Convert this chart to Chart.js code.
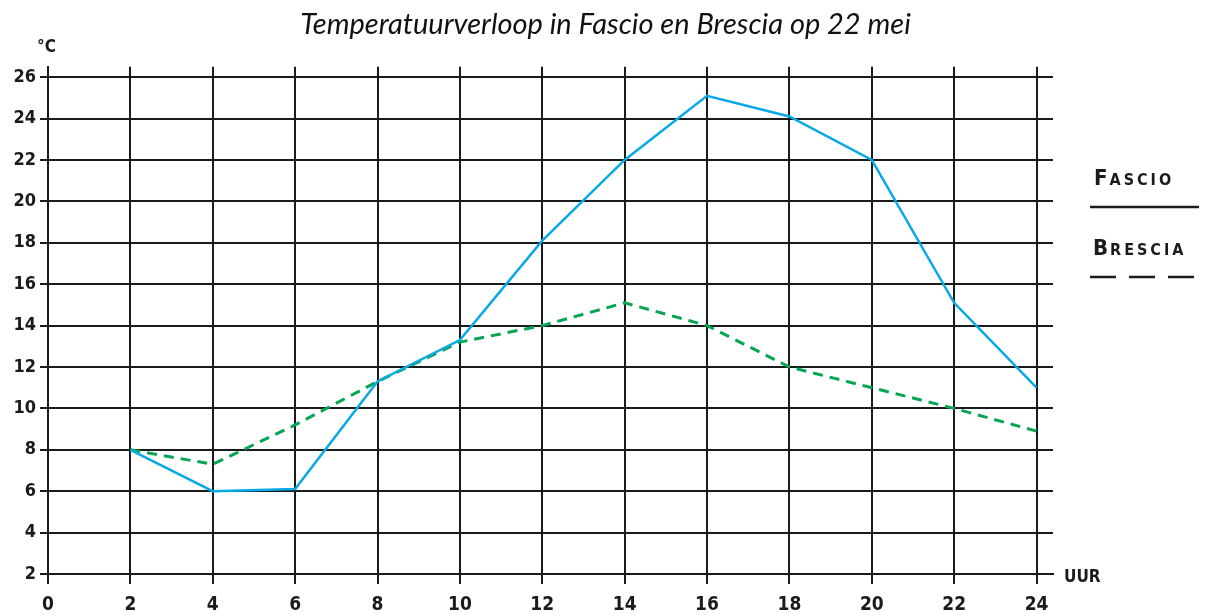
<!DOCTYPE html>
<html>
<head>
<meta charset="utf-8">
<script src="https://cdn.jsdelivr.net/npm/chart.js@4"></script>
<style>
  html, body { margin: 0; padding: 0; background: #fff; }
  #wrap { width: 1211px; height: 615px; }
</style>
</head>
<body>
<div id="wrap"><canvas id="tempChart" width="1211" height="615"></canvas></div>
<script>
// uren van de dag en gemeten temperaturen (°C)
const hours = [2, 4, 6, 8, 10, 12, 14, 16, 18, 20, 22, 24];
const fascio = [8, 6, 6.1, 11.3, 13.3, 18.1, 22, 25.1, 24.1, 22, 15.1, 11];
const brescia = [8, 7.3, 9.2, 11.3, 13.2, 14, 15.1, 14, 12, 11, 10, 8.9];

const xTicks = [0, 2, 4, 6, 8, 10, 12, 14, 16, 18, 20, 22, 24];
const yTicks = [2, 4, 6, 8, 10, 12, 14, 16, 18, 20, 22, 24, 26];

const ink = "#1b1b1b";
const handFont = "'DejaVu Sans Condensed', 'DejaVu Sans', sans-serif";

// handgeschreven opschriften: °C, UUR en de legenda rechts
const handLabels = {
    id: "handLabels",
    afterDraw(chart) {
        const ctx = chart.ctx;
        ctx.save();
        ctx.fillStyle = ink;
        ctx.textBaseline = "alphabetic";
        ctx.textAlign = "left";

        ctx.font = "bold 17px " + handFont;
        ctx.fillText("°C", 37, 52);
        ctx.fillText("UUR", 1064, 582);

        function smallCaps(first, rest, x, y) {
            ctx.font = "bold 22px " + handFont;
            ctx.fillText(first, x, y);
            let w = ctx.measureText(first).width + 2;
            ctx.font = "bold 16px " + handFont;
            ctx.letterSpacing = "3px";
            ctx.fillText(rest, x + w, y);
            ctx.letterSpacing = "0px";
        }
        smallCaps("F", "ASCIO", 1094, 185);
        smallCaps("B", "RESCIA", 1093, 255);

        ctx.strokeStyle = ink;
        ctx.lineWidth = 2.5;
        ctx.beginPath();
        ctx.moveTo(1090, 207);
        ctx.lineTo(1199, 207);
        ctx.stroke();

        ctx.setLineDash([26, 13]);
        ctx.beginPath();
        ctx.moveTo(1090, 277);
        ctx.lineTo(1199, 277);
        ctx.stroke();
        ctx.restore();
    }
};

new Chart(document.getElementById("tempChart"), {
    type: "line",
    data: {
        datasets: [
            {
                label: "Fascio",
                data: hours.map((h, i) => ({ x: h, y: fascio[i] })),
                borderColor: "#08a9e6",
                borderWidth: 2.5,
                pointRadius: 0,
                tension: 0
            },
            {
                label: "Brescia",
                data: hours.map((h, i) => ({ x: h, y: brescia[i] })),
                borderColor: "#05a552",
                borderWidth: 3,
                borderDash: [10, 7],
                pointRadius: 0,
                tension: 0
            }
        ]
    },
    options: {
        responsive: false,
        animation: false,
        layout: { padding: 0 },
        plugins: {
            legend: { display: false },
            tooltip: { enabled: false },
            title: {
                display: true,
                text: "Temperatuurverloop in Fascio en Brescia op 22 mei",
                color: "#111",
                font: { family: "Lato", style: "italic", size: 29, weight: "normal" },
                padding: { top: 7, bottom: 25 }
            }
        },
        scales: {
            x: {
                type: "linear",
                min: 0,
                max: 24.4,
                afterBuildTicks: s => { s.ticks = xTicks.map(v => ({ value: v })); },
                afterFit: s => { s.height = 41; },
                ticks: {
                    color: ink,
                    padding: 10,
                    font: { family: handFont, size: 19, weight: "bold" }
                },
                grid: { color: ink, lineWidth: 2, tickLength: 10 },
                border: { color: ink, width: 2 }
            },
            y: {
                type: "linear",
                min: 2,
                max: 26.5,
                afterBuildTicks: s => { s.ticks = yTicks.map(v => ({ value: v })); },
                afterFit: s => { s.width = 48; },
                ticks: {
                    color: ink,
                    padding: 4,
                    font: { family: handFont, size: 18, weight: "bold" }
                },
                grid: { color: ink, lineWidth: 2, tickLength: 8 },
                border: { color: ink, width: 2 }
            },
            // lege strook rechts waar de legenda staat
            side: {
                type: "linear",
                position: "right",
                display: true,
                min: 2,
                max: 26.5,
                afterFit: s => { s.width = 158; },
                ticks: { display: false },
                grid: { display: false },
                border: { display: false }
            }
        }
    },
    plugins: [handLabels]
});
</script>
</body>
</html>
